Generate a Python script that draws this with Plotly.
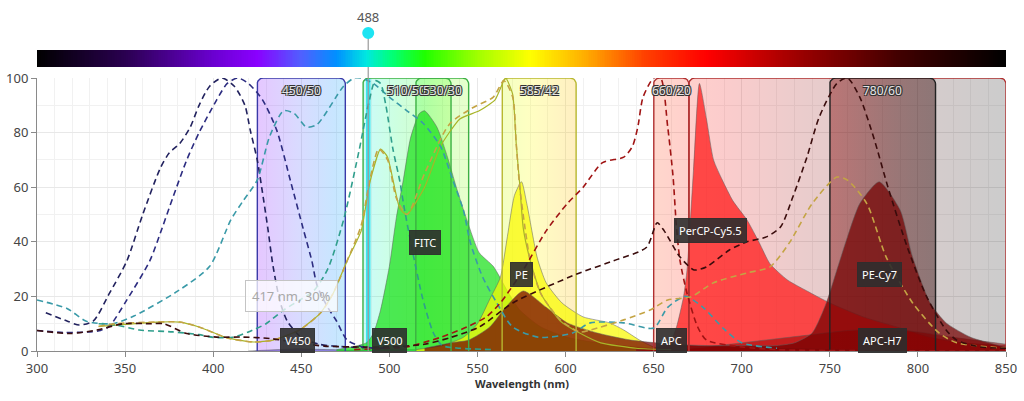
import numpy as np
import plotly.graph_objects as go

# ---------------- data ----------------
WL_MIN, WL_MAX = 300, 850

# colour of the visible spectrum (top bar and filter tints)
spectrum_wl = [300, 350, 400, 425, 450, 470, 487, 500, 520, 550, 580, 610, 645, 680, 730, 790, 850]
spectrum_hex = ['#000000', '#2a0050', '#6a00d0', '#8a00ff', '#5060ff', '#0090ff', '#00e8e0', '#00ff80',
                '#20ff00', '#a0ff00', '#ffff00', '#ffb000', '#ff4000', '#ff0000', '#a00000', '#400000', '#000000']

laser_nm = 488

filter_names = ['450/50', '510/50', '530/30', '585/42', '660/20', '670LP', '780/60']
filter_lo = [425, 485, 515, 564, 650, 670, 750]
filter_hi = [475, 535, 545, 606, 670, 850, 810]

# excitation spectra (%)
v450_ex_wl = [305, 317, 324, 332, 341, 351, 360, 370, 375, 381, 387, 392, 398, 405, 412, 418, 421, 425, 428, 431, 434, 438, 442, 450, 460, 475, 500]
v450_ex = [14, 11, 9.5, 11, 21, 33, 50, 67, 72.5, 76, 82, 90, 97, 100, 97, 90, 81, 70, 58, 45, 31, 18, 11, 5, 2.5, 1.5, 1]

v500_ex_wl = [300, 315, 330, 336, 341, 351, 364, 371, 377, 385, 392, 402, 408, 414, 420, 428, 436, 444, 451, 456, 459, 465, 470, 476, 485, 500]
v500_ex = [7.5, 6.8, 7, 7.5, 9, 18.7, 33, 45, 56, 70, 80, 92, 98, 100, 98, 92, 81, 62, 45, 33, 24, 16, 11, 4, 1.5, 1]

fitc_ex_wl = [335, 345, 358, 377, 392, 400, 411, 420, 430, 440, 450, 457, 465, 474, 483, 488, 492, 495, 498, 502, 506, 508, 513, 519, 525, 530, 540, 560]
fitc_ex = [10, 9.5, 7.7, 7, 6, 5, 5, 7, 10, 15, 19, 22, 30, 48, 74, 90, 99, 98, 90, 74, 62, 54, 37, 19, 6.6, 2, 1, 0.5]

pe_ex_wl = [335, 345, 368, 381, 392, 408, 423, 434, 449, 461, 468, 476, 484, 489, 495, 499, 506, 510, 520, 529, 540, 551, 560, 566, 570, 572, 574, 576, 580, 586, 597, 608, 620, 640, 660]
pe_ex = [9, 9.5, 10.6, 10.6, 8.8, 4.8, 3.3, 4, 7.7, 14, 21, 33, 44, 62, 74, 71, 52, 50, 60, 75, 85, 88, 92, 100, 94, 76, 61, 45, 33, 21, 11, 6.6, 3, 1, 0.5]

percp_ex_wl = [300, 317, 328, 343, 355, 380, 398, 410, 417, 425, 432, 440, 446, 453, 459, 474, 480, 484, 491, 500, 510, 519, 529, 536, 542, 546, 553, 561, 570, 585, 604, 614, 633, 650, 658, 668, 678, 690, 700, 720]
percp_ex = [18.7, 15.6, 10.9, 10, 12.8, 22, 31, 48, 55, 62.6, 78.5, 88, 87, 82, 83, 97, 100, 100, 98, 93, 88, 83.5, 75, 62.6, 51.6, 39.6, 27, 17.6, 8.8, 5, 6.6, 10.3, 10.3, 8.4, 16, 20, 16, 8, 3, 1]

apc_ex_wl = [480, 500, 510, 529, 544, 555, 563, 576, 589, 601, 610, 621, 633, 638, 641, 644, 650, 654, 658, 661, 663, 665, 669, 675, 680, 700, 720, 850]
apc_ex = [0.5, 1, 1.5, 5, 8.8, 12.5, 17.6, 29.7, 44, 54, 60, 69, 71, 75, 82, 93, 100, 100, 82, 64, 45, 33, 21, 8.8, 4, 1.5, 0.5, 0]

pecy7_ex_wl = [335, 345, 368, 381, 392, 408, 423, 434, 449, 461, 468, 476, 484, 489, 494, 499, 504, 510, 520, 534, 547, 559, 565, 570, 572, 574, 577, 580, 586, 597, 608, 614, 633, 648, 658, 671, 684, 703, 716, 727, 740, 754, 760, 771, 782, 797, 812, 822, 850]
pecy7_ex = [9, 10, 10.6, 10.6, 8.8, 4.8, 3.3, 4, 7.7, 14, 21, 33, 46, 63, 74, 70, 56, 50, 65, 83, 89, 93, 99, 93, 76, 60, 45, 33, 21, 11.4, 7, 7.7, 11.4, 15, 18.7, 19.8, 25, 28.6, 30.8, 39.6, 54, 63.7, 62.6, 54, 34.4, 17.6, 6.6, 3, 1]

apch7_ex_wl = [300, 319, 334, 349, 365, 372, 385, 402, 417, 432, 448, 463, 480, 500, 520, 535, 551, 570, 589, 608, 627, 646, 652, 656, 665, 673, 680, 693, 703, 714, 722, 729, 737, 744, 754, 760, 767, 775, 783, 794, 805, 816, 822, 835, 850]
apch7_ex = [7.5, 6.4, 7.7, 10, 10, 10, 6.4, 5.1, 5.1, 4.6, 3, 1.8, 1.5, 1.5, 2.5, 5, 8.8, 17.6, 23.4, 28.6, 33, 38, 47, 44, 34.4, 29.7, 30.8, 37, 40, 41.8, 45.4, 56.4, 71, 85.7, 98, 100, 93, 78, 60, 38, 19.8, 7.7, 4, 1.5, 1]

# emission spectra (%, scaled by 488 nm excitation)
v450_em_wl = [420, 440, 448, 460, 480, 500]
v450_em = [0, 0.6, 0.8, 0.6, 0.3, 0.1]

v500_em_wl = [470, 490, 500, 515, 540, 560]
v500_em = [0, 0.5, 0.7, 0.5, 0.2, 0]

fitc_em_wl = [470, 487, 491, 495, 500, 504, 508, 512, 517, 520, 527, 533, 538, 544, 551, 559, 567, 574, 586, 601, 618, 640, 660]
fitc_em = [0.5, 3, 6.6, 15, 31, 49, 63, 78, 87, 88, 82, 71, 60, 48, 36, 31, 22, 15, 8.8, 5, 3, 1.5, 0.5]

pe_em_wl = [515, 530, 542, 550, 557, 563, 567, 571, 575, 578, 584, 589, 598, 610, 625, 633, 642, 650, 660]
pe_em = [0.5, 2, 5, 10, 19, 27, 42, 57, 62, 54, 34, 25, 17.6, 12.5, 10.3, 7.7, 4, 1.5, 0.5]

percp_em_wl = [640, 655, 660, 663, 667, 669, 672.6, 676, 680, 684, 689, 695, 703, 710, 716, 726, 737, 750, 769, 788, 807, 825, 850]
percp_em = [0.5, 1.5, 4, 8.8, 20, 30, 66, 98, 85, 70, 62.6, 55, 48, 39.6, 32, 26, 22, 17.6, 12.5, 8.8, 5, 3, 2]

apc_em_wl = [640, 650, 660, 670, 690, 720, 760, 800, 850]
apc_em = [0, 1, 2.5, 2, 1.5, 1, 0.5, 0.3, 0.1]

apch7_em_wl = [660, 680, 700, 720, 740, 760, 780, 800, 820, 850]
apch7_em = [0.5, 1.5, 3, 4.5, 6, 7.5, 8, 7, 5, 2.5]

pecy7_em_wl = [520, 535, 545, 557, 566, 576, 589, 601, 618, 637, 660, 680, 700, 720, 730, 740, 748, 754, 760, 767, 778, 790, 797, 807, 816, 830, 845, 850]
pecy7_em = [1, 3, 4, 8.8, 16, 22, 16, 10.3, 6.6, 4, 2.5, 2, 2, 2, 3, 6.6, 17.6, 29.7, 41.8, 54, 62, 51.6, 34.4, 17.6, 10.3, 5, 2.2, 1.5]

hover_text = '417 nm, 30%'

# ---------------- styles ----------------
FONT = 'Noto Sans'
filter_border = ['#3a3aa8', '#3cb043', '#3cb043', '#b8b830', '#b03030', '#b03030', '#222222']
filter_alpha = [0.22, 0.2, 0.2, 0.24, 0.2, 0.2, 0.42]
filter_label_show = [True, True, True, True, True, False, True]

ex_series = [
    (v450_ex_wl, v450_ex, '#22225e'),
    (v500_ex_wl, v500_ex, '#2c2c80'),
    (percp_ex_wl, percp_ex, '#3a9aa8'),
    (fitc_ex_wl, fitc_ex, '#2f9e8c'),
    (pecy7_ex_wl, pecy7_ex, '#c4a444'),
    (apc_ex_wl, apc_ex, '#a01414'),
    (apch7_ex_wl, apch7_ex, '#3a0c0c'),
]
pe_ex_style = ('#a8b428', 1.2)

em_series = [
    ('V450', v450_em_wl, v450_em, 'rgba(90,60,200,0.6)', 0),
    ('V500', v500_em_wl, v500_em, 'rgba(0,160,140,0.6)', 0),
    ('FITC', fitc_em_wl, fitc_em, 'rgba(25,225,25,0.72)', 0),
    ('PE', pe_em_wl, pe_em, 'rgba(250,250,0,0.72)', 0),
    ('PerCP-Cy5.5', percp_em_wl, percp_em, 'rgba(255,25,25,0.75)', 11),
    ('APC', apc_em_wl, apc_em, 'rgba(200,0,0,0.6)', 0),
    ('APC-H7', apch7_em_wl, apch7_em, 'rgba(150,0,0,0.55)', 0),
    ('PE-Cy7', pecy7_em_wl, pecy7_em, 'rgba(115,0,0,0.72)', 0),
]

# ---------------- helpers ----------------
def hex_rgb(h):
    h = h.lstrip('#')
    return [int(h[i:i + 2], 16) for i in (0, 2, 4)]

spec_rgb = np.array([hex_rgb(h) for h in spectrum_hex], dtype=float)

def spec_color(wl, alpha=1.0):
    r, g, b = [np.interp(wl, spectrum_wl, spec_rgb[:, k]) for k in range(3)]
    return f'rgba({int(r)},{int(g)},{int(b)},{alpha})'

def rounded_path(lo, hi, top=100.0, rx=3.4, ry=2.2, n=7, closed=True):
    xs, ys = [lo], [0]
    for t in np.linspace(np.pi, np.pi / 2, n):
        xs.append(lo + rx + rx * np.cos(t)); ys.append(top - ry + ry * np.sin(t))
    for t in np.linspace(np.pi / 2, 0, n):
        xs.append(hi - rx + rx * np.cos(t)); ys.append(top - ry + ry * np.sin(t))
    xs.append(hi); ys.append(0)
    if closed:
        xs.append(lo); ys.append(0)
    return xs, ys

# geometry (paper fractions for a 401 px tall page)
H = 401
plot_bottom = (H - 351) / H
plot_top = (H - 78) / H
bar_bottom = (H - 67) / H
bar_top = (H - 50) / H
laser_dot = (H - 33) / H
laser_lbl = (H - 17) / H

fig = go.Figure()

# spectrum bar
bar_x = list(range(WL_MIN, WL_MAX + 1))
scale = [[(w - WL_MIN) / (WL_MAX - WL_MIN), c] for w, c in zip(spectrum_wl, spectrum_hex)]
fig.add_trace(go.Heatmap(x=bar_x, y=[0], z=[bar_x], colorscale=scale, showscale=False,
                         xaxis='x', yaxis='y2', hoverinfo='skip'))

# filter fills
for lo, hi, a in zip(filter_lo, filter_hi, filter_alpha):
    xs, ys = rounded_path(lo, hi)
    samples = np.linspace(lo, hi, 10)
    cs = [[(s - lo) / (hi - lo), spec_color(s, a)] for s in samples]
    fig.add_trace(go.Scatter(x=xs, y=ys, mode='lines', fill='toself', line=dict(width=0),
                             fillgradient=dict(type='horizontal', colorscale=cs),
                             hoverinfo='skip', showlegend=False))

# laser band
fig.add_trace(go.Scatter(x=[laser_nm, laser_nm], y=[0, 100], mode='lines',
                         line=dict(color='rgba(30,228,240,0.85)', width=4.5),
                         hoverinfo='skip', showlegend=False))

# emission fills
for name, wl, val, col, _ in em_series:
    fig.add_trace(go.Scatter(x=wl, y=val, mode='lines', fill='tozeroy', fillcolor=col,
                             line=dict(color='rgba(95,95,95,0.65)', width=0.8, shape='spline', smoothing=0.6),
                             hoverinfo='skip', showlegend=False))

# filter borders
for lo, hi, bc in zip(filter_lo, filter_hi, filter_border):
    xs, ys = rounded_path(lo, hi, closed=False)
    fig.add_trace(go.Scatter(x=xs, y=ys, mode='lines', line=dict(color=bc, width=1.4),
                             hoverinfo='skip', showlegend=False))

# excitation lines
fig.add_trace(go.Scatter(x=pe_ex_wl, y=pe_ex, mode='lines',
                         line=dict(color=pe_ex_style[0], width=pe_ex_style[1], shape='spline', smoothing=0.5),
                         hoverinfo='skip', showlegend=False))
for wl, val, col in ex_series:
    fig.add_trace(go.Scatter(x=wl, y=val, mode='lines',
                             line=dict(color=col, width=1.6, dash='6px,4px', shape='spline', smoothing=0.7),
                             hoverinfo='skip', showlegend=False))

# ---------------- annotations ----------------
ann = []
outline = '-1px -1px 0 #333, 1px -1px 0 #333, -1px 1px 0 #333, 1px 1px 0 #333'
for name, lo, hi, show in zip(filter_names, filter_lo, filter_hi, filter_label_show):
    if not show:
        continue
    ann.append(dict(x=(lo + hi) / 2, y=100, xref='x', yref='y', yanchor='top', yshift=-2,
                    text=name, showarrow=False,
                    font=dict(family=FONT, size=12, color='#e4e4e4', shadow=outline)))

for name, wl, val, col, xs_ in em_series:
    i = int(np.argmax(val))
    ann.append(dict(x=wl[i], y=max(0.45 * val[i], 4), xref='x', yref='y', text=name, showarrow=False,
                    xshift=xs_, bgcolor='rgba(45,45,45,0.9)', bordercolor='rgba(45,45,45,0.9)', borderpad=4,
                    font=dict(family=FONT, size=11, color='#ffffff')))

ann.append(dict(x=444.4, y=20, xref='x', yref='y', text=hover_text, showarrow=False,
                bgcolor='rgba(255,255,255,0.75)', bordercolor='#c4c4c4', borderwidth=1, borderpad=6,
                font=dict(family=FONT, size=13, color='#a8a8a8')))

ann.append(dict(x=laser_nm, y=laser_lbl, xref='x', yref='paper', yanchor='middle', text=str(laser_nm),
                showarrow=False, font=dict(family=FONT, size=13, color='#555555')))

ann.append(dict(x=0.5, y=(H - 383) / H, xref='paper', yref='paper', yanchor='middle',
                text='<b>Wavelength (nm)</b>', showarrow=False,
                font=dict(family=FONT, size=11, color='#333333')))

shapes = [
    dict(type='line', xref='x', yref='paper', x0=laser_nm, x1=laser_nm, y0=bar_top, y1=laser_dot,
         line=dict(color='#9a9a9a', width=1.2), layer='above'),
    dict(type='line', xref='x', yref='paper', x0=laser_nm, x1=laser_nm, y0=plot_bottom, y1=bar_bottom,
         line=dict(color='#9a9a9a', width=1.2), layer='above'),
    dict(type='circle', xref='x', yref='paper', xsizemode='pixel', ysizemode='pixel',
         xanchor=laser_nm, yanchor=laser_dot, x0=-6, x1=6, y0=-6, y1=6,
         fillcolor='#1ee4f2', line=dict(width=0), layer='above'),
]

fig.update_layout(
    width=1024, height=401,
    margin=dict(l=37, r=18, t=0, b=0),
    paper_bgcolor='white', plot_bgcolor='white',
    showlegend=False,
    font=dict(family=FONT, size=13, color='#444'),
    xaxis=dict(range=[WL_MIN, WL_MAX], dtick=50, tick0=300, showgrid=True, gridcolor='#e8e8e8',
               minor=dict(dtick=10, showgrid=True, gridcolor='#f1f1f1'),
               showline=True, linecolor='#8a8a8a', ticks='outside', ticklen=5, tickcolor='#8a8a8a',
               tickfont=dict(size=13, color='#444'), zeroline=False, automargin=False, anchor='y'),
    yaxis=dict(domain=[plot_bottom, plot_top], range=[0, 100], dtick=20, showgrid=True, gridcolor='#e8e8e8',
               minor=dict(dtick=10, showgrid=True, gridcolor='#f1f1f1'),
               showline=True, linecolor='#8a8a8a', ticks='outside', ticklen=5, tickcolor='#8a8a8a',
               tickfont=dict(size=13, color='#444'), zeroline=False, automargin=False),
    yaxis2=dict(domain=[bar_bottom, bar_top], range=[-0.5, 0.5], showticklabels=False, showgrid=False,
                zeroline=False, anchor='x', fixedrange=True),
    annotations=ann,
    shapes=shapes,
)

fig.write_html('out.html')
